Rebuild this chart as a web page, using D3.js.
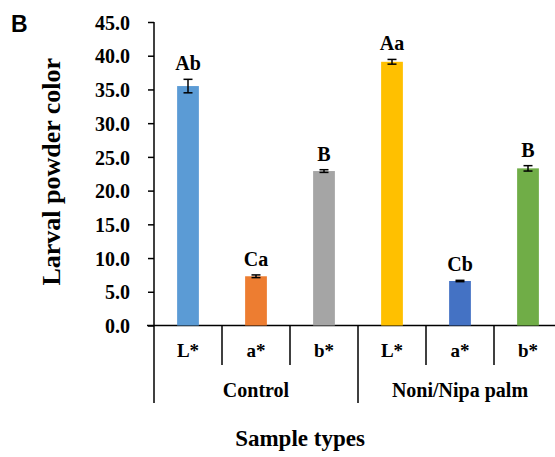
<!DOCTYPE html>
<html>
<head>
<meta charset="utf-8">
<script src="https://cdn.jsdelivr.net/npm/d3@7"></script>
<style>
  body { margin: 0; background: #fff; }
</style>
</head>
<body>
<svg class="chart" width="555" height="457"></svg>
<script>
// chart values
const categories = ["L*", "a*", "b*", "L*", "a*", "b*"];
const groups = ["Control", "Noni/Nipa palm"];
const values = [35.5, 7.3, 22.9, 39.1, 6.6, 23.3];
const errors = [1.0, 0.2, 0.2, 0.35, 0.1, 0.4];
const letters = ["Ab", "Ca", "B", "Aa", "Cb", "B"];
const colors = ["#5B9BD5", "#ED7D31", "#A5A5A5", "#FFC000", "#4472C4", "#70AD47"];
const yTicks = [0, 5, 10, 15, 20, 25, 30, 35, 40, 45];

const serif = "'Liberation Serif', 'Times New Roman', Times, serif";

function drawColorBars(){
  const margin = { top: 22, left: 154 };
  const height = 303.5;
  const step = 68;

  const svg = d3.select('svg.chart');

  const x = d3.scaleBand()
              .domain(d3.range(categories.length))
              .range([margin.left, margin.left + step * categories.length])
              .padding(0);

  const y = d3.scaleLinear()
              .domain([0, 45])
              .range([margin.top + height, margin.top]);

  const barW = x.bandwidth() * 0.32;
  const base = y(0);

  // y axis
  const yAxis = svg.append('g')
      .attr('class', 'axis y')
      .attr('transform', `translate(${margin.left},0)`)
      .call(d3.axisLeft(y).tickValues(yTicks).tickSize(6).tickFormat(d3.format('.1f')));
  yAxis.attr('font-family', null).attr('font-size', null);
  yAxis.select('.domain').remove();
  yAxis.selectAll('.tick line').attr('stroke', '#000').attr('stroke-width', 1.5);
  yAxis.selectAll('.tick text')
      .attr('x', -24)
      .attr('dy', '0.36em')
      .style('font-size', '20px');

  // axis lines
  svg.append('line')
      .attr('x1', margin.left).attr('x2', margin.left)
      .attr('y1', y(45)).attr('y2', 403)
      .attr('stroke', '#000').attr('stroke-width', 1.5);
  svg.append('line')
      .attr('x1', margin.left - 7).attr('x2', 555)
      .attr('y1', base).attr('y2', base)
      .attr('stroke', '#000').attr('stroke-width', 1.5);

  // category separators
  svg.selectAll('line.sep')
    .data(d3.range(1, categories.length + 1))
    .enter()
    .append('line')
      .attr('class', 'sep')
      .attr('x1', d => x(0) + d * step)
      .attr('x2', d => x(0) + d * step)
      .attr('y1', base)
      .attr('y2', d => d % 3 === 0 ? 403 : 365)
      .attr('stroke', '#000').attr('stroke-width', 1.5);

  // bars
  svg.selectAll('rect.bar')
    .data(values)
    .enter()
    .append('rect')
      .attr('class', 'bar')
      .attr('x', (d, i) => x(i) + (x.bandwidth() - barW) / 2)
      .attr('y', d => y(d))
      .attr('width', barW)
      .attr('height', d => base - y(d))
      .attr('fill', (d, i) => colors[i]);

  // error bars
  const eb = svg.selectAll('g.err')
    .data(values)
    .enter()
    .append('g')
      .attr('class', 'err')
      .attr('stroke', '#000')
      .attr('stroke-width', 1.5);
  eb.append('line')
      .attr('x1', (d, i) => x(i) + x.bandwidth() / 2)
      .attr('x2', (d, i) => x(i) + x.bandwidth() / 2)
      .attr('y1', (d, i) => y(d + errors[i]))
      .attr('y2', (d, i) => y(d - errors[i]));
  [1, -1].forEach(s => {
    eb.append('line')
        .attr('x1', (d, i) => x(i) + x.bandwidth() / 2 - 4.5)
        .attr('x2', (d, i) => x(i) + x.bandwidth() / 2 + 4.5)
        .attr('y1', (d, i) => y(d + s * errors[i]))
        .attr('y2', (d, i) => y(d + s * errors[i]));
  });

  // significance letters
  svg.selectAll('text.barLabel')
    .data(values)
    .enter()
    .append('text')
      .attr('class', 'barLabel')
      .attr('x', (d, i) => x(i) + x.bandwidth() / 2)
      .attr('y', (d, i) => y(d + errors[i]) - 9)
      .text((d, i) => letters[i])
      .style('text-anchor', 'middle')
      .style('font-size', '20px');

  // category labels
  svg.selectAll('text.cat')
    .data(categories)
    .enter()
    .append('text')
      .attr('class', 'cat')
      .attr('x', (d, i) => x(i) + x.bandwidth() / 2)
      .attr('y', 357)
      .text(d => d)
      .style('text-anchor', 'middle')
      .style('font-size', '19px');

  svg.selectAll('text.grp')
    .data(groups)
    .enter()
    .append('text')
      .attr('class', 'grp')
      .attr('x', (d, i) => x(i * 3) + step * 1.5)
      .attr('y', 397)
      .text(d => d)
      .style('text-anchor', 'middle')
      .style('font-size', '20px');

  // axis titles
  svg.append('text')
      .text('Sample types')
      .attr('x', 300)
      .attr('y', 446)
      .style('text-anchor', 'middle')
      .style('font-size', '23px');

  svg.append('text')
      .text('Larval powder color')
      .attr('transform', `translate(60, ${y(22.5) - 2}) rotate(-90)`)
      .style('text-anchor', 'middle')
      .style('font-size', '26px');

  // all chart text is bold serif
  svg.selectAll('text')
      .style('font-family', serif)
      .style('font-weight', 'bold')
      .style('fill', '#000');

  svg.append('text')
      .text('B')
      .attr('x', 11)
      .attr('y', 32)
      .style('font-family', "'Liberation Sans', Arial, sans-serif")
      .style('font-weight', 'bold')
      .style('font-size', '23px');
}

drawColorBars();
</script>
</body>
</html>
